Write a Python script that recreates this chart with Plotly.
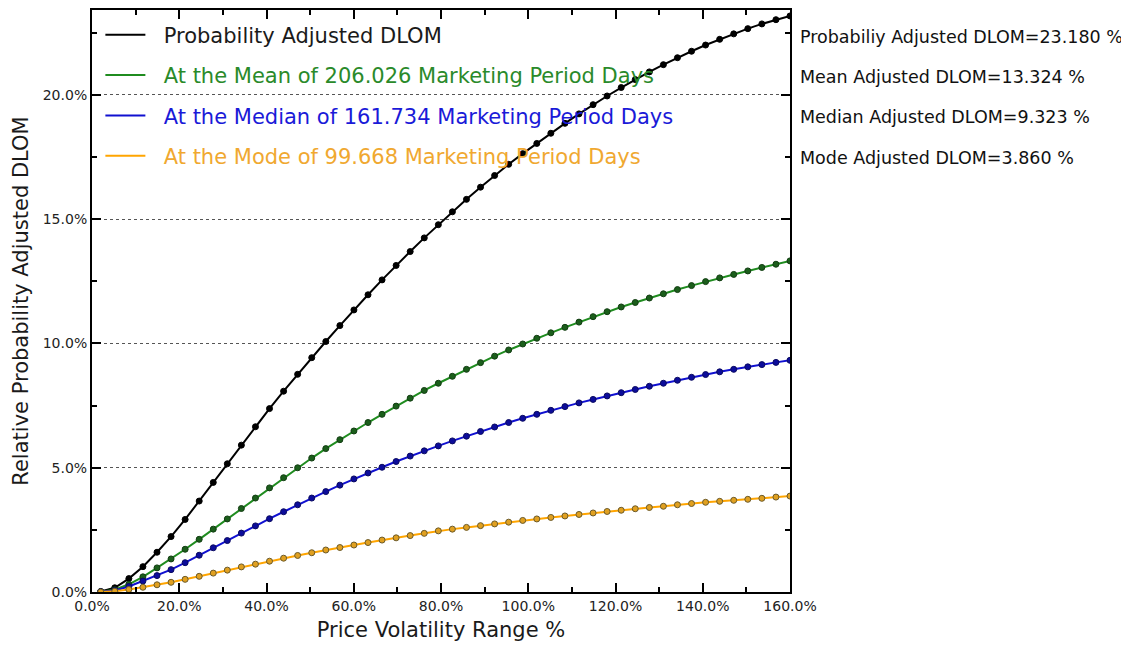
import plotly.graph_objects as go

# Price volatility (%) at which each point was evaluated
volatility_pct = [2.00, 5.22, 8.45, 11.67, 14.90, 18.12, 21.35, 24.57, 27.80, 31.02,
                  34.24, 37.47, 40.69, 43.92, 47.14, 50.37, 53.59, 56.82, 60.04, 63.27,
                  66.49, 69.71, 72.94, 76.16, 79.39, 82.61, 85.84, 89.06, 92.29, 95.51,
                  98.73, 101.96, 105.18, 108.41, 111.63, 114.86, 118.08, 121.31, 124.53, 127.76,
                  130.98, 134.20, 137.43, 140.65, 143.88, 147.10, 150.33, 153.55, 156.78, 160.00]

prob_adjusted = [0.02, 0.17, 0.54, 1.02, 1.60, 2.23, 2.92, 3.66, 4.41, 5.16,
                 5.91, 6.65, 7.38, 8.08, 8.76, 9.43, 10.08, 10.72, 11.35, 11.96,
                 12.56, 13.14, 13.70, 14.25, 14.78, 15.30, 15.80, 16.29, 16.76, 17.21,
                 17.64, 18.05, 18.46, 18.86, 19.24, 19.61, 19.96, 20.30, 20.62, 20.93,
                 21.22, 21.50, 21.76, 22.01, 22.24, 22.46, 22.67, 22.86, 23.03, 23.18]

mean_dlom = [0.01, 0.09, 0.31, 0.61, 0.97, 1.33, 1.72, 2.12, 2.53, 2.94,
             3.36, 3.78, 4.19, 4.60, 5.00, 5.39, 5.77, 6.13, 6.48, 6.82,
             7.15, 7.48, 7.80, 8.11, 8.40, 8.68, 8.96, 9.23, 9.49, 9.74,
             9.98, 10.21, 10.43, 10.65, 10.86, 11.08, 11.28, 11.47, 11.65, 11.83,
             12.00, 12.17, 12.33, 12.49, 12.64, 12.78, 12.92, 13.06, 13.19, 13.324]

median_dlom = [0.01, 0.06, 0.22, 0.44, 0.66, 0.90, 1.18, 1.48, 1.78, 2.07,
               2.37, 2.66, 2.95, 3.23, 3.51, 3.78, 4.04, 4.30, 4.55, 4.79,
               5.02, 5.25, 5.47, 5.68, 5.88, 6.08, 6.27, 6.46, 6.64, 6.82,
               6.99, 7.15, 7.31, 7.46, 7.61, 7.75, 7.89, 8.02, 8.15, 8.28,
               8.40, 8.52, 8.64, 8.75, 8.86, 8.96, 9.06, 9.15, 9.24, 9.323]

mode_dlom = [0.00, 0.03, 0.10, 0.19, 0.29, 0.39, 0.51, 0.63, 0.76, 0.88,
             1.01, 1.12, 1.24, 1.36, 1.47, 1.58, 1.69, 1.79, 1.89, 1.99,
             2.09, 2.18, 2.27, 2.36, 2.46, 2.53, 2.60, 2.67, 2.74, 2.81,
             2.88, 2.94, 3.00, 3.06, 3.12, 3.18, 3.24, 3.29, 3.35, 3.40,
             3.45, 3.51, 3.56, 3.61, 3.65, 3.69, 3.73, 3.77, 3.82, 3.860]

series_names = ["Probability Adjusted DLOM",
                "At the Mean of 206.026 Marketing Period Days",
                "At the Median of 161.734 Marketing Period Days",
                "At the Mode of 99.668 Marketing Period Days"]
line_colors = ["#000000", "#1f8c1f", "#1010d0", "#ffa500"]
marker_colors = ["#000000", "#1b5e1b", "#0c0c9a", "#e0a020"]
marker_edges = ["#000000", "#123d12", "#0a0a60", "#6b5a2a"]
text_colors = ["#1a1a1a", "#2a8a2a", "#1a1ad8", "#f0a830"]

summary_labels = ["Probabiliy Adjusted DLOM", "Mean Adjusted DLOM",
                  "Median Adjusted DLOM", "Mode Adjusted DLOM"]
summary_values = [23.180, 13.324, 9.323, 3.860]

all_series = [prob_adjusted, mean_dlom, median_dlom, mode_dlom]

fig = go.Figure()
for i, ys in enumerate(all_series):
    fig.add_trace(go.Scatter(
        x=volatility_pct, y=ys, mode="lines",
        line=dict(color=line_colors[i], width=2),
        name=f'<span style="color:{text_colors[i]}">&nbsp;&nbsp;{series_names[i]}</span>',
        legendgroup=f"g{i}", showlegend=True, hoverinfo="skip"))
    fig.add_trace(go.Scatter(
        x=volatility_pct, y=ys, mode="markers",
        marker=dict(color=marker_colors[i], size=6,
                    line=dict(color=marker_edges[i], width=1)),
        legendgroup=f"g{i}", showlegend=False, name=series_names[i]))

font_family = "DejaVu Sans, Verdana, sans-serif"

# page body has an 8px default margin, so the figure is 8px smaller
annot_y = [37, 77, 117, 158]
plot_top, plot_h = 10, 582
for lab, val, yp in zip(summary_labels, summary_values, annot_y):
    fig.add_annotation(
        x=1.0, xref="paper", xshift=8, xanchor="left",
        y=1 - (yp - plot_top) / plot_h, yref="paper", yanchor="middle",
        text=f"{lab}={val:.3f} %", showarrow=False,
        font=dict(family=font_family, size=17.5, color="#111111"))

fig.update_layout(
    width=1121, height=637,
    margin=dict(l=84, r=339, t=2, b=53),
    paper_bgcolor="white", plot_bgcolor="white",
    font=dict(family=font_family, color="#222222"),
    showlegend=True,
    legend=dict(x=0.012, y=0.992, xanchor="left", yanchor="top",
                bgcolor="rgba(0,0,0,0)", borderwidth=0,
                font=dict(family=font_family, size=21),
                tracegroupgap=10, itemwidth=40),
    xaxis=dict(
        range=[0, 160], tickmode="array", automargin=False,
        tickvals=[0, 20, 40, 60, 80, 100, 120, 140, 160],
        ticktext=["0.0%", "20.0%", "40.0%", "60.0%", "80.0%", "100.0%",
                  "120.0%", "140.0%", "160.0%"],
        ticks="inside", ticklen=9, tickwidth=2, tickcolor="black",
        minor=dict(ticks="inside", ticklen=5, tickwidth=2, tickcolor="black", dtick=10, tick0=0),
        showline=True, linecolor="black", linewidth=2, mirror="allticks",
        showgrid=False, zeroline=False,
        tickfont=dict(size=14, color="#222222"),
        title=dict(text="Price Volatility Range %", font=dict(size=21, color="#1a1a1a"), standoff=10),
    ),
    yaxis=dict(
        range=[0, 23.42], tickmode="array", automargin=False,
        tickvals=[0, 5, 10, 15, 20],
        ticktext=["0.0%", "5.0%", "10.0%", "15.0%", "20.0%"],
        ticks="inside", ticklen=9, tickwidth=2, tickcolor="black",
        minor=dict(ticks="inside", ticklen=5, tickwidth=2, tickcolor="black", dtick=2.5, tick0=0,
                   showgrid=False),
        showline=True, linecolor="black", linewidth=2, mirror="allticks",
        showgrid=True, gridcolor="#555555", gridwidth=1, griddash="dot",
        zeroline=False,
        tickfont=dict(size=14, color="#222222"),
        title=dict(text="Relative Probability Adjusted DLOM", font=dict(size=21, color="#1a1a1a"), standoff=8),
    ),
)

fig.write_html("out.html")
